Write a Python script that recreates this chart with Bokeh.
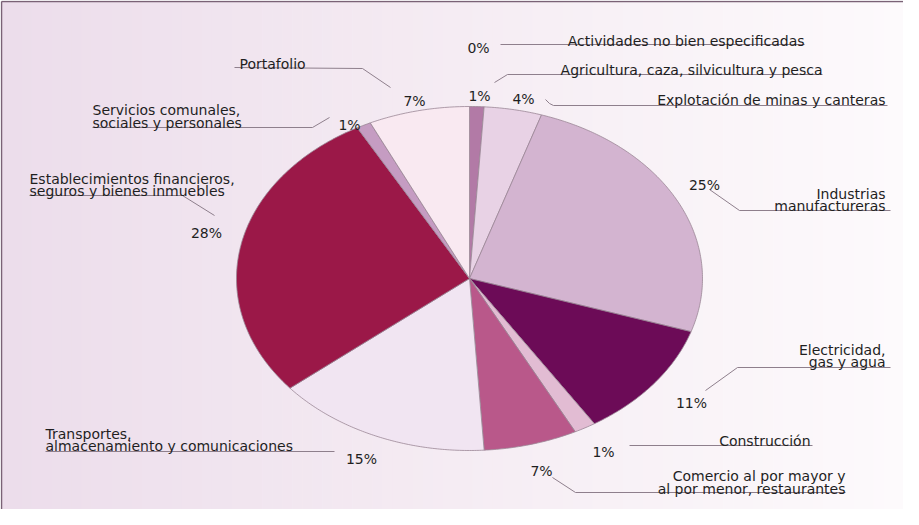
import numpy as np
from bokeh.plotting import figure
from bokeh.models import Range1d
from bokeh.embed import file_html
from bokeh.resources import INLINE
from bokeh.core.properties import value

# ---------------- data ----------------
sectors = [
    "Agricultura, caza, silvicultura y pesca",
    "Explotación de minas y canteras",
    "Industrias manufactureras",
    "Electricidad, gas y agua",
    "Construcción",
    "Comercio al por mayor y al por menor, restaurantes",
    "Transportes, almacenamiento y comunicaciones",
    "Establecimientos financieros, seguros y bienes inmuebles",
    "Servicios comunales, sociales y personales",
    "Portafolio",
    "Actividades no bien especificadas",
]
shares = [1.0, 4.0, 25.0, 11.0, 1.5, 6.5, 15.0, 28.0, 1.0, 7.0, 0.0]
pct_labels = ["1%", "4%", "25%", "11%", "1%", "7%", "15%", "28%", "1%", "7%", "0%"]
name_lines = [
    ["Agricultura, caza, silvicultura y pesca"],
    ["Explotación de minas y canteras"],
    ["Industrias", "manufactureras"],
    ["Electricidad,", "gas y agua"],
    ["Construcción"],
    ["Comercio al por mayor y", "al por menor, restaurantes"],
    ["Transportes,", "almacenamiento y comunicaciones"],
    ["Establecimientos financieros,", "seguros y bienes inmuebles"],
    ["Servicios comunales,", "sociales y personales"],
    ["Portafolio"],
    ["Actividades no bien especificadas"],
]
colors = ["#b27aa6", "#e8d2e5", "#d3b4d0", "#6c0b57", "#e2bcd3",
          "#b9588a", "#f1e5f2", "#9b1848", "#c59cc2", "#f9e9f1", "#cccccc"]

# ---------------- layout (page pixel coords) ----------------
W, H = 903, 509
CX, CY, RX, RY = 477.0, 286.0, 233.0, 172.0
FONT = "DejaVu Sans"
FS = "14px"
TXT = "#1f1f1f"
LEAD = "#8e7f8c"

# name label: (x anchor, first baseline, line step, align)
name_pos = [
    (830, 77, 13, "right"),
    (893, 107, 13, "right"),
    (893, 201, 12, "right"),
    (893, 357, 12, "right"),
    (818, 448, 13, "right"),
    (853, 483, 13, "right"),
    (53, 441, 12, "left"),
    (37, 186, 12, "left"),
    (100, 117, 13, "left"),
    (247, 71, 13, "left"),
    (812, 48, 13, "right"),
]
pct_pos = [(487, 103), (531, 106), (712, 192), (699, 410), (611, 459),
           (549, 478), (369, 466), (214, 240), (357, 132), (422, 108), (486, 55)]
leaders = [
    ([502, 515, 830], [90, 82, 82]),
    ([553, 557, 561, 895], [107, 111, 113, 113]),
    ([717, 747, 898], [197, 218, 218]),
    ([713, 745, 898], [398, 375, 375]),
    ([637, 820], [453, 453]),
    ([560, 583, 853], [485, 500, 500]),
    ([53, 342], [459, 459]),
    ([37, 190, 222], [203, 203, 223]),
    ([100, 320, 337], [135, 135, 125]),
    ([242, 370, 398], [75, 76, 95]),
    ([508, 812], [52, 52]),
]

p = figure(width=W, height=H, output_backend="svg", toolbar_location=None,
           x_range=Range1d(8, 8 + W), y_range=Range1d(8 + H, 8),
           min_border=0, outline_line_color=None)
p.axis.visible = False
p.grid.visible = False
p.background_fill_color = "white"
p.border_fill_color = "white"

# background gradient (decorative)
n = 90
edges = np.linspace(9, 8 + W, n + 1)
c0 = np.array([236, 221, 235]); c1 = np.array([245, 236, 243]); c2 = np.array([253, 250, 252])
cols = []
for i in range(n):
    t = i / (n - 1)
    c = c0 + (c1 - c0) * (t / 0.5) if t < 0.5 else c1 + (c2 - c1) * ((t - 0.5) / 0.5)
    cols.append("#%02x%02x%02x" % tuple(int(round(v)) for v in c))
p.quad(left=edges[:-1], right=edges[1:] + 0.6, bottom=8 + H, top=9,
       fill_color=cols, line_color=None)
# frame
p.segment(x0=[9, 9], y0=[9, 9], x1=[9, 8 + W], y1=[8 + H, 9],
          line_color="#7a6276", line_width=1.5)

# pie slices (elliptical, angles clockwise from 12 o'clock)
total = sum(shares)
xs, ys, fc = [], [], []
start = 0.0
for s, c in zip(shares, colors):
    if s <= 0:
        continue
    a0 = 2 * np.pi * start / total
    a1 = 2 * np.pi * (start + s) / total
    t = np.linspace(a0, a1, max(4, int(s * 6)))
    px = np.concatenate([[CX], CX + RX * np.sin(t)])
    py = np.concatenate([[CY], CY - RY * np.cos(t)])
    xs.append(list(px)); ys.append(list(py)); fc.append(c)
    start += s
p.patches(xs=xs, ys=ys, fill_color=fc, line_color="#9a8796", line_width=0.8)

# leader lines
p.multi_line(xs=[l[0] for l in leaders], ys=[l[1] for l in leaders],
             line_color=LEAD, line_width=1)

# names
for lines, (x, y, step, al) in zip(name_lines, name_pos):
    p.text(x=[x] * len(lines), y=[y + i * step for i in range(len(lines))], text=lines,
           text_font=value(FONT), text_font_size=FS, text_color=TXT,
           text_align=al, text_baseline="alphabetic")

# percentages
p.text(x=[q[0] for q in pct_pos], y=[q[1] for q in pct_pos], text=pct_labels,
       text_font=value(FONT), text_font_size=FS, text_color=TXT,
       text_align="center", text_baseline="alphabetic")

open("out.html", "w").write(file_html(p, INLINE))
